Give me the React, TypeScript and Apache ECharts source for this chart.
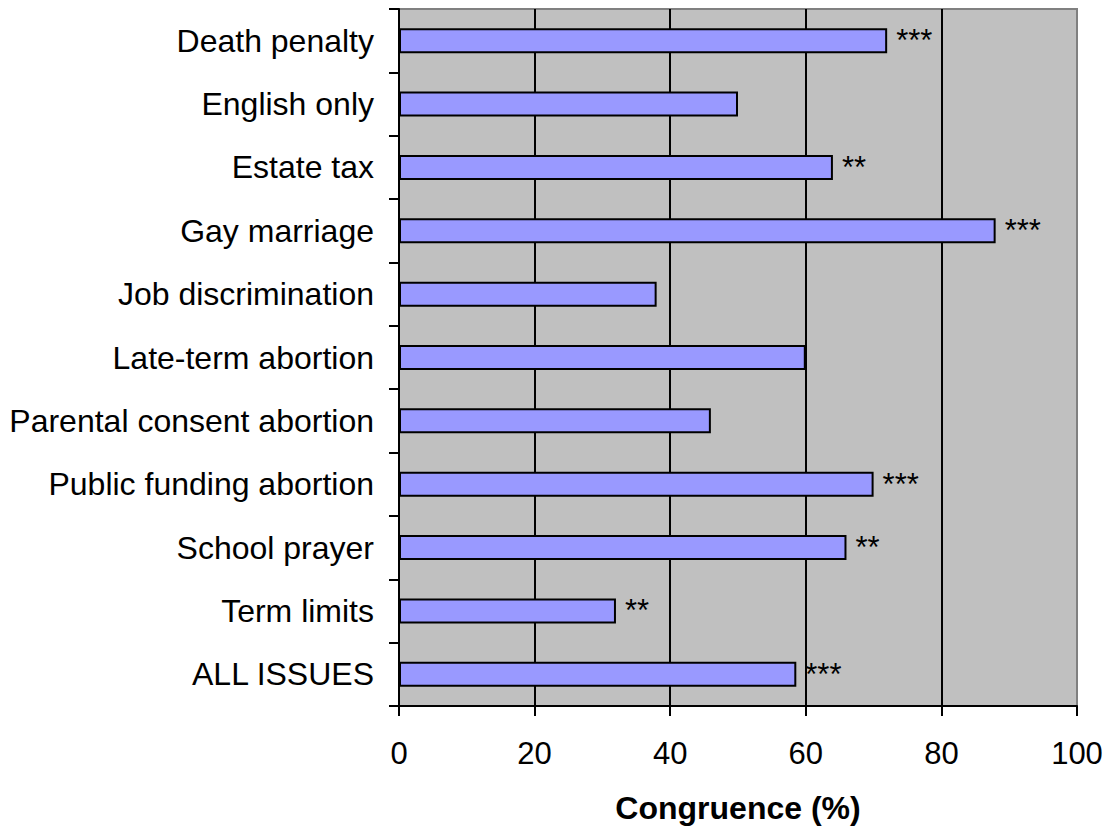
import React, { useEffect, useRef } from "react";
import * as echarts from "echarts";

const categories = [
  "Death penalty",
  "English only",
  "Estate tax",
  "Gay marriage",
  "Job discrimination",
  "Late-term abortion",
  "Parental consent abortion",
  "Public funding abortion",
  "School prayer",
  "Term limits",
  "ALL ISSUES",
];
const congruence = [72, 50, 64, 88, 38, 60, 46, 70, 66, 32, 58.6];
const significance = ["***", "", "**", "***", "", "", "", "***", "**", "**", "***"];
const xTicks = [0, 20, 40, 60, 80, 100];

const FONT = "'Liberation Sans', Arial, sans-serif";

export default function App() {
  const ref = useRef<HTMLDivElement>(null);
  useEffect(() => {
    document.body.style.margin = "0";
    if (!ref.current) return;
    const chart = echarts.init(ref.current, null, { renderer: "svg" });
    chart.setOption({
      animation: false,
      backgroundColor: "#ffffff",
      grid: {
        left: 399,
        right: 35,
        top: 9,
        bottom: 121,
        show: true,
        backgroundColor: "#C0C0C0",
        borderColor: "#808080",
        borderWidth: 2,
        containLabel: false,
      },
      xAxis: {
        type: "value",
        min: xTicks[0],
        max: xTicks[xTicks.length - 1],
        interval: 20,
        name: "Congruence (%)",
        nameLocation: "middle",
        nameGap: 86,
        nameTextStyle: {
          fontFamily: FONT,
          fontSize: 32,
          fontWeight: "bold",
          color: "#000",
        },
        axisLine: { show: true, lineStyle: { color: "#000", width: 2 } },
        axisTick: { show: true, length: 10, lineStyle: { color: "#000", width: 2 } },
        axisLabel: {
          fontFamily: FONT,
          fontSize: 31,
          color: "#000",
          margin: 32,
        },
        splitLine: {
          show: true,
          lineStyle: {
            color: ["#000", "#000", "#000", "#000", "#000", "#808080"],
            width: 2,
          },
        },
      },
      yAxis: {
        type: "category",
        data: categories,
        inverse: true,
        axisLine: { show: true, lineStyle: { color: "#000", width: 2 } },
        axisTick: { show: true, length: 10, alignWithLabel: false, lineStyle: { color: "#000", width: 2 } },
        axisLabel: {
          fontFamily: FONT,
          fontSize: 32,
          color: "#000",
          margin: 25,
        },
        splitLine: { show: false },
      },
      series: [
        {
          type: "bar",
          data: congruence.map((v, i) => ({
            value: v,
            label: { formatter: significance[i] },
          })),
          barWidth: 25,
          itemStyle: { color: "#9999FF", borderColor: "#000", borderWidth: 2 },
          label: {
            show: true,
            position: "right",
            distance: 9,
            fontFamily: FONT,
            fontSize: 31,
            color: "#000",
          },
        },
      ],
    });
    return () => chart.dispose();
  }, []);
  return <div ref={ref} style={{ width: 1112, height: 829 }} />;
}
